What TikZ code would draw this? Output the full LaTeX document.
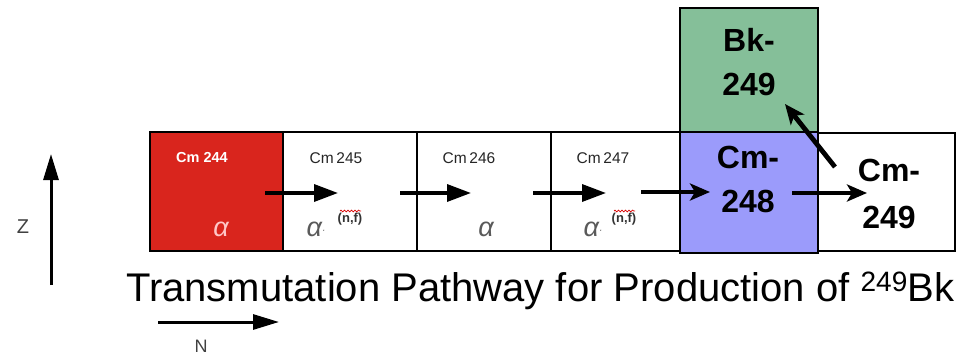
\documentclass[tikz,border=0pt]{standalone}
\usepackage{fontspec}
\setmainfont{Liberation Sans}
\usetikzlibrary{arrows.meta,decorations.pathmorphing}
\definecolor{cmred}{HTML}{D9251D}
\definecolor{cmblue}{HTML}{9B9BFB}
\definecolor{bkgreen}{HTML}{85BF99}
\definecolor{alphagray}{HTML}{5A5A5A}
\begin{document}
\begin{tikzpicture}[x=1pt,y=-1pt,
  nuclide/.style={draw=black,line width=2.6pt,inner sep=0pt},
  smalllabel/.style={font=\fontsize{15.5}{17}\selectfont,text=black!85},
  alphalabel/.style={font=\fontsize{27}{29}\selectfont\itshape,text=alphagray},
  nflabel/.style={font=\fontsize{13}{15}\selectfont\bfseries,text=black!80},
  biglabel/.style={font=\fontsize{32}{44}\selectfont\bfseries,align=center},
  stepline/.style={line width=3.4pt,-{Triangle[length=24pt,width=17pt]}},
  boldstep/.style={line width=4.8pt,-{Stealth[length=20pt,width=17pt,inset=5pt]}},
  axisarrow/.style={line width=3pt,-{Triangle[length=26pt,width=15pt]}},
  squiggle/.style={red!85!black,line width=0.7pt,decorate,decoration={snake,amplitude=0.9pt,segment length=3.5pt}}]
\useasboundingbox (0,0) rectangle (966,356);

% chain of curium isotopes
\node[nuclide,fill=cmred,minimum width=133pt,minimum height=119pt] (c244) at (216.5,191.5) {};
\node[nuclide,fill=white,minimum width=134pt,minimum height=119pt] (c245) at (350,191.5) {};
\node[nuclide,fill=white,minimum width=134pt,minimum height=119pt] (c246) at (484,191.5) {};
\node[nuclide,fill=white,minimum width=129pt,minimum height=119pt] (c247) at (615.5,191.5) {};
\node[nuclide,fill=white,minimum width=137pt,minimum height=118pt] (c249) at (886.5,192) {};
\node[nuclide,fill=cmblue,minimum width=138pt,minimum height=121pt] (c248) at (749,192.5) {};
\node[nuclide,fill=bkgreen,minimum width=138pt,minimum height=124pt] (bk249) at (749,70) {};

% isotope names
\node[smalllabel,text=white,font=\fontsize{14.5}{16}\selectfont\bfseries] (n244) at (202,158) {Cm 244};
\node[smalllabel] (n245) at (336,158) {Cm\,245};
\node[smalllabel] (n246) at (469,158) {Cm\,246};
\node[smalllabel] (n247) at (603,158) {Cm\,247};
\node[biglabel] (n248) at (748,179) {Cm-\\248};
\node[biglabel] (nbk) at (749,62) {Bk-\\249};
\node[biglabel,font=\fontsize{32}{47}\selectfont\bfseries] (n249) at (889,194) {Cm-\\249};

% decay modes
\node[alphalabel,text=red!22!white] (a244) at (221,229) {α};
\node[alphalabel] (a245) at (316,229) {α\raisebox{3pt}{\fontsize{10}{10}\selectfont·}};
\node[nflabel] (f245) at (350,219) {(n,f)};
\draw[squiggle] ([xshift=-10pt,yshift=8pt]f245.center) -- ([xshift=11pt,yshift=8pt]f245.center);
\node[alphalabel] (a246) at (486,229) {α};
\node[alphalabel] (a247) at (593,229) {α\raisebox{3pt}{\fontsize{10}{10}\selectfont·}};
\node[nflabel] (f247) at (624,219) {(n,f)};
\draw[squiggle] ([xshift=-10pt,yshift=8pt]f247.center) -- ([xshift=11pt,yshift=8pt]f247.center);

% neutron-capture steps
\coordinate (s1) at (265,193); \coordinate (e1) at (338,193);
\coordinate (s2) at (400,193); \coordinate (e2) at (471,193);
\coordinate (s3) at (533,193); \coordinate (e3) at (606,193);
\coordinate (s4) at (641,192); \coordinate (e4) at (710,192);
\coordinate (s5) at (792,193); \coordinate (e5) at (867,193);
\coordinate (s6) at (835,167); \coordinate (e6) at (785,104);
\draw[stepline] (s1) -- (e1);
\draw[stepline] (s2) -- (e2);
\draw[stepline] (s3) -- (e3);
\draw[boldstep] (s4) -- (e4);
\draw[boldstep] (s5) -- (e5);
\draw[boldstep] (s6) -- (e6);

% axes
\coordinate (zfoot) at (51,285); \coordinate (ztip) at (51,154);
\draw[axisarrow] (zfoot) -- (ztip);
\node[font=\fontsize{20}{22}\selectfont,text=black!75] (zlab) at (23,227) {Z};
\coordinate (nfoot) at (158,322); \coordinate (ntip) at (279,322);
\draw[axisarrow] (nfoot) -- (ntip);
\node[font=\fontsize{18}{20}\selectfont,text=black!75] (nlab) at (201,346) {N};

% caption
\node[anchor=base west,inner sep=0pt,font=\fontsize{40}{42}\selectfont] (title) at (126,301)
  {Transmutation Pathway for Production of \textsuperscript{249}Bk};
\end{tikzpicture}
\end{document}
